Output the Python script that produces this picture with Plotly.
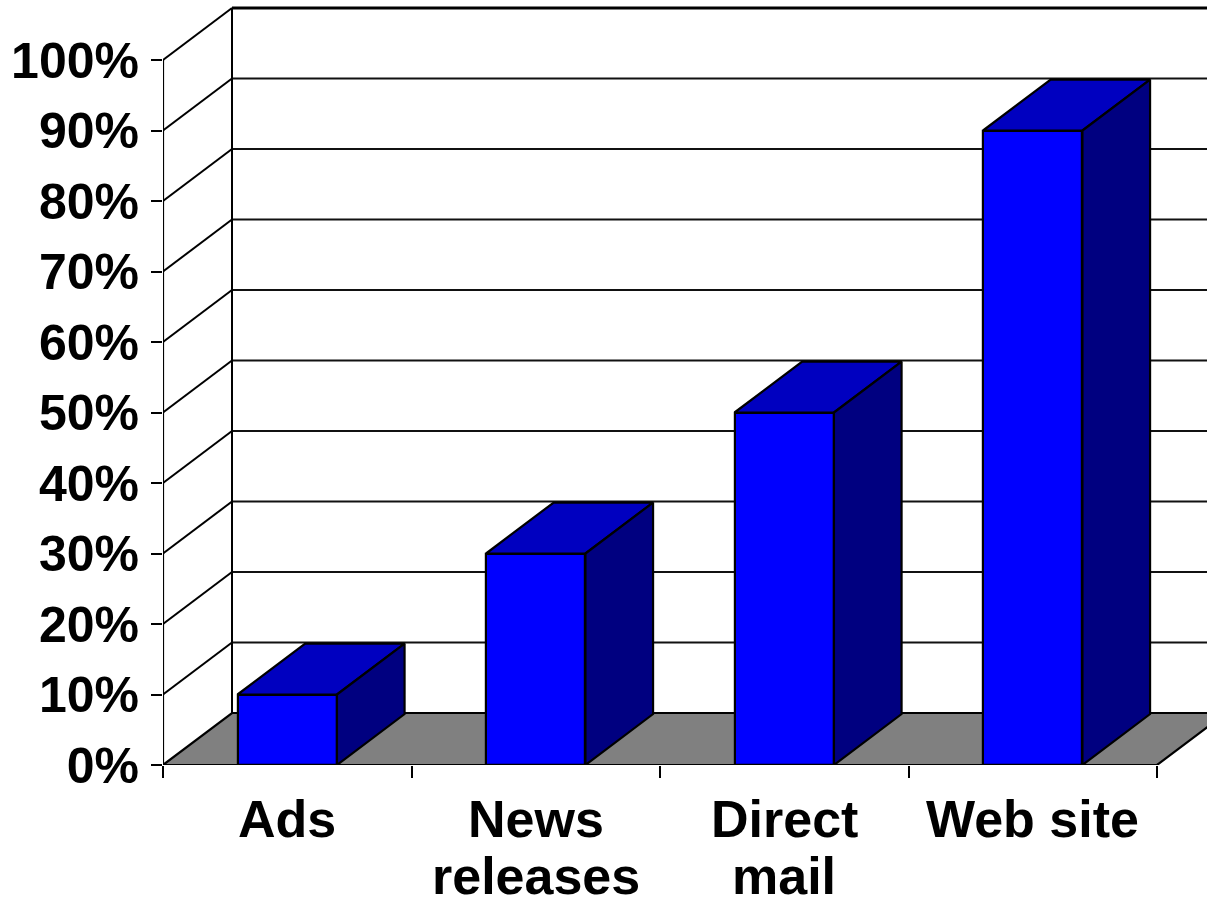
import plotly.graph_objects as go

# ---- data -------------------------------------------------------------
categories = ["Ads", "News releases", "Direct mail", "Web site"]
label_lines = [["Ads"], ["News", "releases"], ["Direct", "mail"], ["Web site"]]
shares = [10, 30, 50, 90]            # percent of respondents
y_ticks = list(range(0, 101, 10))
y_tick_text = [f"{v}%" for v in y_ticks]

# ---- frame geometry (pixels) -----------------------------------------
W, H = 1207, 906
LEFT, BOTTOM = 163, 765              # front-plane origin
PX_PER_CAT = 248.5
PX_PER_PCT = 7.05
DX = 69 / PX_PER_CAT                 # depth offset in category units
DY = 52 / PX_PER_PCT                 # depth offset in percent units
BAR_W = 0.4
BAR_DEPTH = 0.98

N = len(categories)
x_max = (W - LEFT) / PX_PER_CAT
y_max = BOTTOM / PX_PER_PCT

FRONT = "#0000FF"
TOP = "#0000C0"
SIDE = "#000080"
FLOOR = "#808080"
FONT = "Arial, Liberation Sans, sans-serif"


def segments(pairs):
    xs, ys = [], []
    for (x0, y0), (x1, y1) in pairs:
        xs += [x0, x1, None]
        ys += [y0, y1, None]
    return xs, ys


fig = go.Figure()

# back wall gridlines
gx, gy = segments([((DX, v + DY), (x_max + 1, v + DY)) for v in y_ticks[:-1]])
fig.add_trace(go.Scatter(x=gx, y=gy, mode="lines",
                         line=dict(color="#111111", width=1.9), zorder=0))
gx, gy = segments([((DX, y_ticks[-1] + DY), (x_max + 1, y_ticks[-1] + DY))])
fig.add_trace(go.Scatter(x=gx, y=gy, mode="lines",
                         line=dict(color="#000000", width=2.8), zorder=0))

# side wall diagonals and back-left edge
pairs = [((0, v), (DX, v + DY)) for v in y_ticks[1:]]
pairs.append(((DX, DY), (DX, y_ticks[-1] + DY)))
gx, gy = segments(pairs)
fig.add_trace(go.Scatter(x=gx, y=gy, mode="lines",
                         line=dict(color="#000000", width=2), zorder=0))

# floor
fig.add_trace(go.Scatter(
    x=[0, N, N + DX, DX, 0], y=[0, 0, DY, DY, 0],
    mode="lines", fill="toself", fillcolor=FLOOR,
    line=dict(color="#000000", width=2.2), zorder=0))

# front value axis line
fig.add_trace(go.Scatter(x=[0, 0], y=[0, y_ticks[-1]], mode="lines",
                         line=dict(color="#000000", width=2.2), zorder=0))

# columns: front faces
centers = [i + 0.5 for i in range(N)]
fig.add_trace(go.Bar(
    x=centers, y=shares, width=BAR_W, base=0,
    marker=dict(color=FRONT, line=dict(color="#000000", width=2.2)),
    zorder=2))

# columns: top and side faces
dx, dy = BAR_DEPTH * DX, BAR_DEPTH * DY
for c, v in zip(centers, shares):
    l, r = c - BAR_W / 2, c + BAR_W / 2
    fig.add_trace(go.Scatter(
        x=[l, r, r + dx, l + dx, l], y=[v, v, v + dy, v + dy, v],
        mode="lines", fill="toself", fillcolor=TOP,
        line=dict(color="#000000", width=2.2), zorder=3))
    fig.add_trace(go.Scatter(
        x=[r, r + dx, r + dx, r, r], y=[0, dy, v + dy, v, 0],
        mode="lines", fill="toself", fillcolor=SIDE,
        line=dict(color="#000000", width=2.2), zorder=3))

# category labels, one annotation per text line
annotations = []
line_shift = [-54, -111]
for c, lines in zip(centers, label_lines):
    for k, txt in enumerate(lines):
        annotations.append(dict(
            x=c, xref="x", y=0, yref="paper", yanchor="middle",
            yshift=line_shift[k], text=txt, showarrow=False,
            font=dict(family=FONT, size=52, color="#000000", weight="bold")))

fig.update_layout(
    template="none",
    width=W, height=H,
    margin=dict(l=LEFT, r=0, t=0, b=H - BOTTOM, pad=0),
    paper_bgcolor="white", plot_bgcolor="white",
    showlegend=False,
    bargap=0,
    annotations=annotations,
    xaxis=dict(range=[0, x_max], tickvals=list(range(N + 1)),
               showticklabels=False, ticks="outside", ticklen=12,
               tickwidth=2, tickcolor="#000000", showgrid=False,
               zeroline=False, showline=False, automargin=False,
               fixedrange=True),
    yaxis=dict(range=[0, y_max], tickvals=y_ticks, ticktext=y_tick_text,
               ticks="outside", ticklen=11, tickwidth=2,
               tickcolor="#000000", ticklabelstandoff=2,
               tickfont=dict(family=FONT, size=50, color="#000000",
                             weight="bold"),
               showgrid=False, zeroline=False, showline=False,
               automargin=False, fixedrange=True),
)

fig.write_html("out.html", config={"displayModeBar": False})
